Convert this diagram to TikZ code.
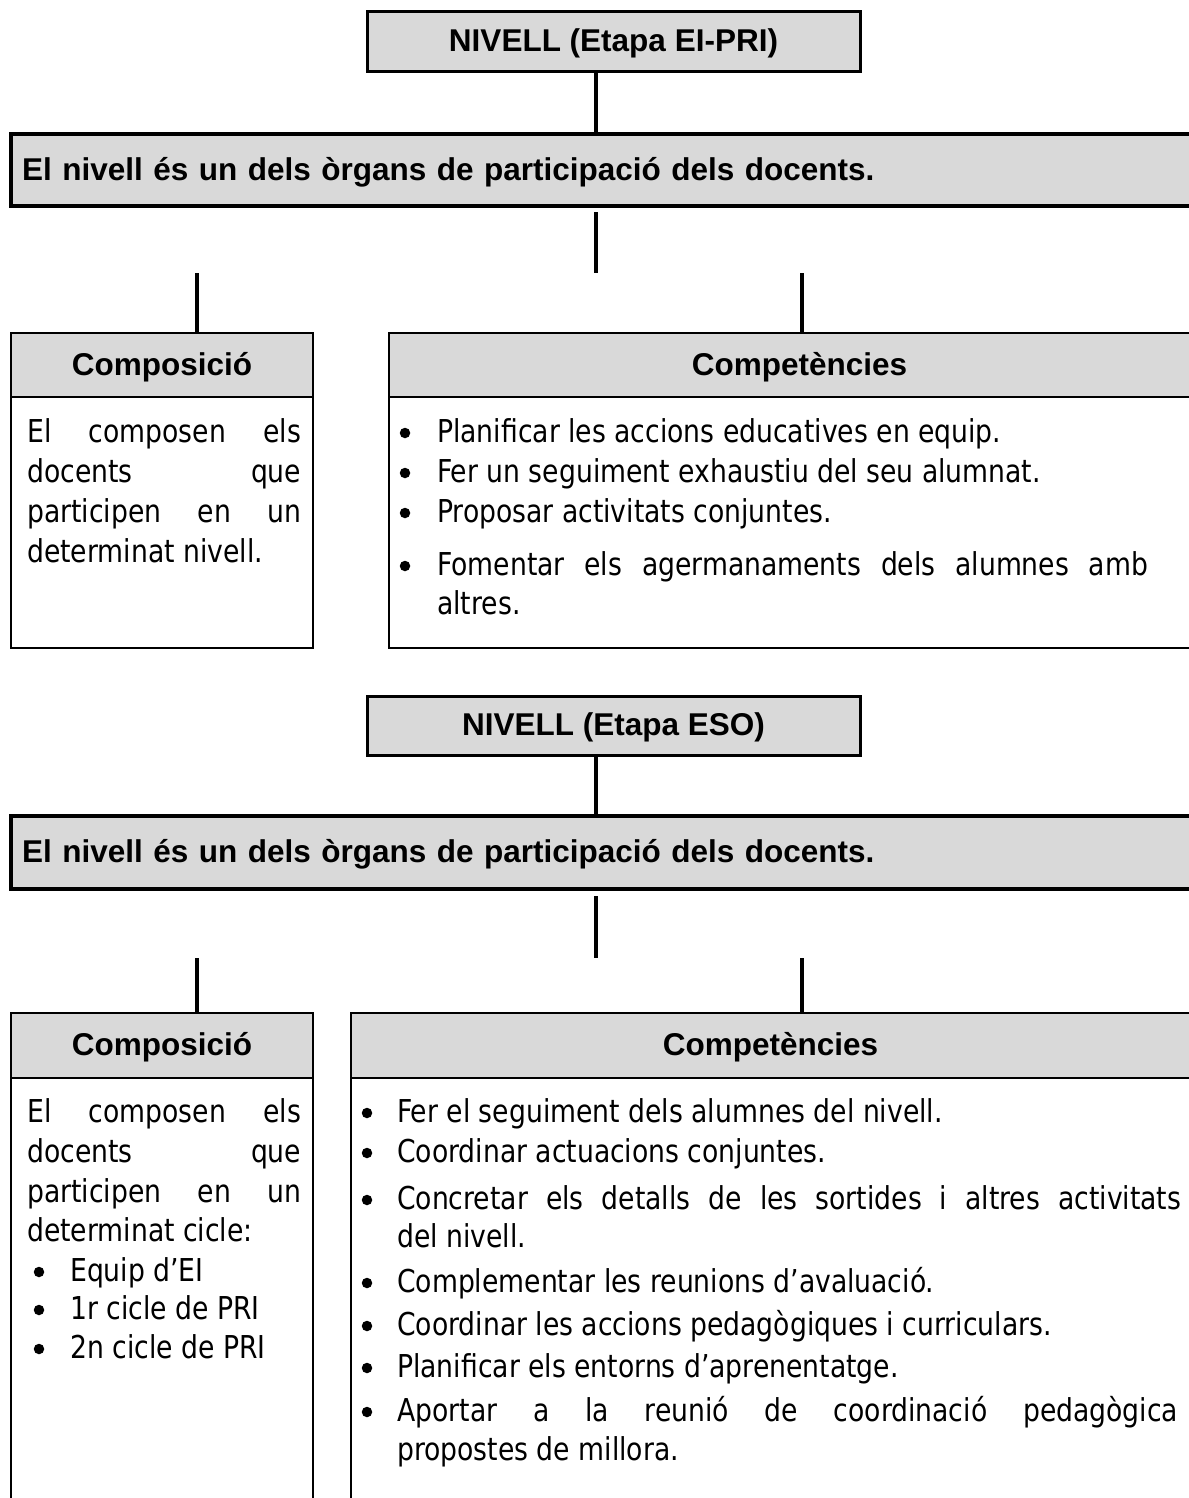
\documentclass[tikz,border=0pt]{standalone}
\usepackage{fontspec}
\setmainfont{Liberation Sans}
\newfontfamily\bodyf[FakeStretch=0.94]{DejaVu Sans Condensed}
\usetikzlibrary{calc}
\definecolor{hdr}{HTML}{D9D9D9}
\newcommand\bodyfont{\bodyf\fontsize{31.5}{36}\selectfont}
\newcommand\headfont{\bfseries\fontsize{31.5}{36}\selectfont}
\newcommand\jl[2]{\makebox[#1pt][s]{#2}}
\begin{document}
\begin{tikzpicture}[x=1pt,y=-1pt,
  thinbox/.style={draw=black, line width=2.5pt, rectangle, inner sep=0pt},
  hdrbox/.style={thinbox, fill=hdr, font=\headfont, text depth=3pt},
  topbox/.style={hdrbox, line width=3pt},
  widebox/.style={draw=black, line width=4pt, fill=hdr, rectangle, font=\headfont,
     inner xsep=11pt, inner ysep=0pt, align=left, text depth=3pt},
  conn/.style={draw=black, line width=3.5pt},
  body/.style={anchor=base west, inner sep=0pt, font=\bodyfont},
  bulc/.style={circle, fill=black, inner sep=0pt, minimum size=10.5pt}]
\useasboundingbox (0,0) rectangle (1188,1498);

% ---------------- Section 1 ----------------
\node[topbox, minimum width=493pt, minimum height=60pt] (t1) at (613.5,41.5) {NIVELL (Etapa EI-PRI)};
\node[widebox, text width=1177pt, minimum height=72pt] (w1) at (610.5,170) {El nivell és un dels òrgans de participació dels docents.};

\node[hdrbox, minimum width=302pt, minimum height=64pt] (c1h) at (162,365) {Composició};
\node[thinbox, minimum width=302pt, minimum height=251pt] (c1b) at (162,522.5) {};
\node[hdrbox, minimum width=821pt, minimum height=64pt] (p1h) at (799.5,365) {Competències};
\node[thinbox, minimum width=821pt, minimum height=251pt] (p1b) at (799.5,522.5) {};

\coordinate (ax1) at (596,273);
\coordinate (l1) at (197,273);
\coordinate (r1) at (802,273);
\draw[conn] (ax1 |- t1.south) -- (ax1 |- w1.north);
\draw[conn] ($(ax1 |- w1.south)+(0,4)$) -- (ax1);
\draw[conn] (l1) -- (l1 |- c1h.north);
\draw[conn] (r1) -- (r1 |- p1h.north);

\node[body] (c1t1) at (27,442) {\jl{274}{El composen els}};
\node[body] (c1t2) at (27,482) {\jl{274}{docents que}};
\node[body] (c1t3) at (27,522) {\jl{274}{participen en un}};
\node[body] (c1t4) at (27,562) {determinat nivell.};

\node[bulc] (p1b1) at (405,433) {};
\node[body] (p1t1) at (437,442) {Planificar les accions educatives en equip.};
\node[bulc] (p1b2) at (405,473) {};
\node[body] (p1t2) at (437,482) {Fer un seguiment exhaustiu del seu alumnat.};
\node[bulc] (p1b3) at (405,513) {};
\node[body] (p1t3) at (437,522) {Proposar activitats conjuntes.};
\node[bulc] (p1b4) at (405,566) {};
\node[body] (p1t4) at (437,575) {\jl{711}{Fomentar els agermanaments dels alumnes amb}};
\node[body] (p1t5) at (437,614) {altres.};

% ---------------- Section 2 ----------------
\node[topbox, minimum width=493pt, minimum height=59pt] (t2) at (613.5,725.5) {NIVELL (Etapa ESO)};
\node[widebox, text width=1177pt, minimum height=73pt] (w2) at (610.5,852.5) {El nivell és un dels òrgans de participació dels docents.};

\node[hdrbox, minimum width=302pt, minimum height=65pt] (c2h) at (162,1045.5) {Composició};
\node[thinbox, minimum width=302pt, minimum height=442pt] (c2b) at (162,1299) {};
\node[hdrbox, minimum width=839pt, minimum height=65pt] (p2h) at (770.5,1045.5) {Competències};
\node[thinbox, minimum width=839pt, minimum height=442pt] (p2b) at (770.5,1299) {};

\coordinate (ax2) at (596,958);
\coordinate (l2) at (197,958);
\coordinate (r2) at (802,958);
\draw[conn] (ax2 |- t2.south) -- (ax2 |- w2.north);
\draw[conn] ($(ax2 |- w2.south)+(0,5)$) -- (ax2);
\draw[conn] (l2) -- (l2 |- c2h.north);
\draw[conn] (r2) -- (r2 |- p2h.north);

\node[body] (c2t1) at (27,1122) {\jl{274}{El composen els}};
\node[body] (c2t2) at (27,1162) {\jl{274}{docents que}};
\node[body] (c2t3) at (27,1202) {\jl{274}{participen en un}};
\node[body] (c2t4) at (27,1241) {determinat cicle:};
\node[bulc] (c2b1) at (39,1272) {};
\node[body] (c2t5) at (70,1281) {Equip d’EI};
\node[bulc] (c2b2) at (39,1310) {};
\node[body] (c2t6) at (70,1319) {1r cicle de PRI};
\node[bulc] (c2b3) at (39,1349) {};
\node[body] (c2t7) at (70,1358) {2n cicle de PRI};

\node[bulc] (p2b1) at (367,1113) {};
\node[body] (p2t1) at (397,1122) {Fer el seguiment dels alumnes del nivell.};
\node[bulc] (p2b2) at (367,1153) {};
\node[body] (p2t2) at (397,1162) {Coordinar actuacions conjuntes.};
\node[bulc] (p2b3) at (367,1200) {};
\node[body] (p2t3) at (397,1209) {\jl{784}{Concretar els detalls de les sortides i altres activitats}};
\node[body] (p2t4) at (397,1247) {del nivell.};
\node[bulc] (p2b4) at (367,1283) {};
\node[body] (p2t5) at (397,1292) {Complementar les reunions d’avaluació.};
\node[bulc] (p2b5) at (367,1326) {};
\node[body] (p2t6) at (397,1335) {Coordinar les accions pedagògiques i curriculars.};
\node[bulc] (p2b6) at (367,1368) {};
\node[body] (p2t7) at (397,1377) {Planificar els entorns d’aprenentatge.};
\node[bulc] (p2b7) at (367,1412) {};
\node[body] (p2t8) at (397,1421) {\jl{781}{Aportar a la reunió de coordinació pedagògica}};
\node[body] (p2t9) at (397,1460) {propostes de millora.};
\end{tikzpicture}
\end{document}
